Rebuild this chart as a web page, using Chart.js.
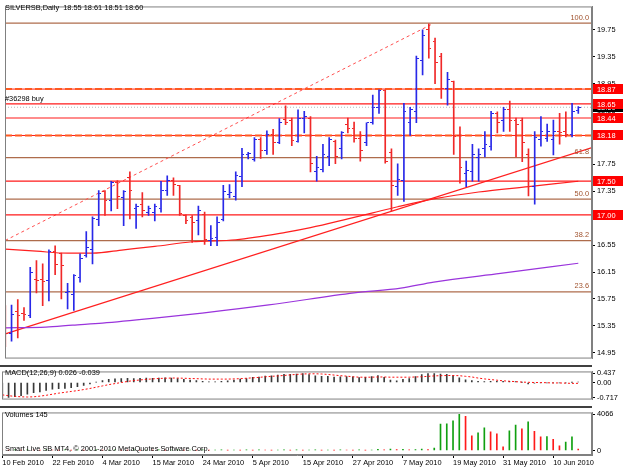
<!DOCTYPE html>
<html>
<head>
<meta charset="utf-8">
<script src="https://cdn.jsdelivr.net/npm/chart.js@4.4.1/dist/chart.umd.min.js"></script>
<style>
html, body { margin: 0; padding: 0; background: #fff; }
#wrap { position: relative; width: 625px; height: 469px; overflow: hidden; }
#wrap canvas { position: absolute; left: 0; }
</style>
</head>
<body>
<div id="wrap">
    <canvas id="mainChart" width="625" height="365" style="top:0"></canvas>
    <canvas id="macdChart" width="625" height="41" style="top:365px"></canvas>
    <canvas id="volChart" width="625" height="63" style="top:406px"></canvas>
</div>
<script>
// SILVERSB daily, 10 Feb 2010 .. mid Jun 2010 (one entry per bar)
const opens = [
    15.45, 15.24, 15.56, 15.53, 15.50, 16.04, 16.04, 16.03, 16.46, 16.42,
    15.84, 15.82, 16.07, 16.40, 16.49, 16.93, 17.35, 17.22, 17.48, 17.26,
    17.55, 17.10, 17.15, 17.04, 17.03, 17.09, 17.36, 17.51, 17.44, 16.99,
    16.96, 16.91, 17.01, 16.62, 16.67, 16.93, 17.30, 17.28, 17.57, 17.90,
    17.83, 18.12, 17.95, 18.19, 18.08, 18.42, 18.41, 18.09, 18.44, 18.44,
    17.64, 17.67, 17.87, 18.09, 17.99, 18.34, 18.28, 18.13, 18.08, 18.37,
    18.60, 18.85, 17.92, 17.42, 17.51, 18.38, 18.53, 19.30, 19.76, 19.58,
    19.36, 18.88, 18.99, 18.18, 17.62, 17.64, 17.86, 17.98, 18.01, 18.51,
    18.40, 18.56, 18.41, 18.41, 17.90, 17.42, 18.12, 18.13, 18.12, 18.24,
    18.24, 18.19, 18.55
];
const highs = [
    15.65, 15.66, 15.74, 15.62, 16.22, 16.32, 16.27, 16.48, 16.54, 16.43,
    15.98, 16.11, 16.42, 16.75, 16.97, 17.36, 17.36, 17.50, 17.51, 17.36,
    17.64, 17.16, 17.33, 17.13, 17.16, 17.50, 17.58, 17.55, 17.44, 17.00,
    16.99, 17.13, 17.04, 16.84, 16.97, 17.44, 17.45, 17.64, 17.99, 17.93,
    18.15, 18.15, 18.25, 18.27, 18.43, 18.62, 18.44, 18.56, 18.54, 18.46,
    17.87, 18.05, 18.15, 18.11, 18.24, 18.44, 18.38, 18.24, 18.37, 18.78,
    18.86, 18.86, 17.98, 17.76, 18.66, 18.60, 19.36, 19.75, 19.84, 19.63,
    19.40, 19.12, 18.99, 18.31, 17.80, 18.05, 17.98, 18.24, 18.54, 18.53,
    18.60, 18.69, 18.44, 18.44, 17.98, 18.24, 18.46, 18.35, 18.41, 18.51,
    18.53, 18.66, 18.61
];
const lows = [
    15.04, 15.12, 15.17, 15.43, 15.47, 15.84, 15.65, 15.72, 16.11, 15.75,
    15.60, 15.58, 16.00, 16.37, 16.27, 16.84, 16.99, 17.06, 17.09, 16.84,
    16.94, 16.80, 16.97, 16.99, 16.91, 17.04, 17.29, 17.29, 16.99, 16.87,
    16.59, 16.70, 16.56, 16.54, 16.54, 16.91, 17.25, 17.22, 17.42, 17.83,
    17.80, 17.84, 17.90, 17.90, 18.06, 18.34, 18.03, 18.08, 18.22, 17.64,
    17.50, 17.64, 17.73, 17.76, 17.83, 18.22, 18.08, 17.80, 18.03, 18.35,
    18.51, 17.77, 17.06, 17.29, 17.20, 18.18, 18.37, 19.08, 19.33, 18.95,
    18.73, 18.63, 17.90, 17.47, 17.42, 17.50, 17.50, 17.86, 17.96, 18.22,
    18.24, 18.24, 17.86, 17.79, 17.28, 17.16, 18.02, 18.09, 17.89, 18.05,
    18.16, 18.16, 18.51
];
const closes = [
    15.24, 15.52, 15.50, 15.52, 16.14, 16.03, 16.01, 16.46, 16.26, 16.25,
    15.86, 16.10, 16.35, 16.51, 16.94, 17.32, 17.22, 17.48, 17.28, 17.35,
    17.36, 17.13, 17.07, 17.10, 17.13, 17.36, 17.51, 17.45, 17.02, 16.91,
    16.88, 17.07, 16.64, 16.65, 16.88, 17.34, 17.33, 17.58, 17.89, 17.91,
    18.12, 17.95, 18.19, 18.08, 18.38, 18.38, 18.11, 18.44, 18.46, 17.77,
    17.71, 17.89, 18.12, 17.87, 18.22, 18.28, 18.14, 17.95, 18.37, 18.60,
    18.85, 17.80, 17.44, 17.52, 18.53, 18.57, 19.33, 19.66, 19.47, 19.26,
    18.88, 19.02, 18.16, 17.71, 17.66, 17.90, 17.89, 18.05, 18.50, 18.38,
    18.56, 18.41, 18.34, 18.08, 17.42, 18.15, 18.24, 18.24, 18.24, 18.22,
    18.19, 18.53, 18.60
];

// MACD(12,26,9): main (histogram) and signal
const macdMain = [
    -0.717, -0.70, -0.66, -0.62, -0.55, -0.48, -0.44, -0.37, -0.31, -0.29,
    -0.28, -0.24, -0.19, -0.14, -0.07, 0.02, 0.09, 0.15, 0.17, 0.18,
    0.20, 0.19, 0.20, 0.21, 0.20, 0.21, 0.22, 0.21, 0.18, 0.15,
    0.11, 0.09, 0.05, 0.03, 0.03, 0.06, 0.08, 0.11, 0.16, 0.19,
    0.24, 0.26, 0.30, 0.31, 0.35, 0.39, 0.38, 0.40, 0.42, 0.37,
    0.31, 0.29, 0.29, 0.26, 0.27, 0.28, 0.27, 0.23, 0.24, 0.28,
    0.32, 0.24, 0.12, 0.08, 0.15, 0.19, 0.28, 0.37, 0.42, 0.42,
    0.40, 0.39, 0.32, 0.22, 0.13, 0.09, 0.05, 0.04, 0.06, 0.05,
    0.06, 0.06, 0.04, 0.01, -0.06, -0.03, -0.02, -0.01, -0.02, -0.01,
    -0.02, 0.01, 0.026
];
const macdSignal = [
    -0.58, -0.62, -0.65, -0.67, -0.68, -0.67, -0.64, -0.60, -0.55, -0.50,
    -0.46, -0.42, -0.38, -0.33, -0.28, -0.22, -0.16, -0.10, -0.05, 0.00,
    0.05, 0.09, 0.12, 0.15, 0.17, 0.19, 0.20, 0.21, 0.21, 0.20,
    0.19, 0.18, 0.17, 0.16, 0.16, 0.16, 0.16, 0.17, 0.18, 0.20,
    0.22, 0.24, 0.27, 0.29, 0.31, 0.33, 0.36, 0.38, 0.40, 0.41,
    0.41, 0.40, 0.38, 0.35, 0.32, 0.30, 0.27, 0.25, 0.25, 0.25,
    0.26, 0.26, 0.25, 0.25, 0.25, 0.25, 0.26, 0.27, 0.29, 0.31,
    0.32, 0.33, 0.33, 0.32, 0.29, 0.26, 0.21, 0.17, 0.14, 0.11,
    0.08, 0.06, 0.04, 0.02, 0.01, 0.00, 0.00, -0.01, -0.02, -0.02,
    -0.03, -0.04, -0.039
];

const volumes = [
    60, 45, 70, 30, 85, 55, 40, 65, 50, 35,
    75, 45, 60, 40, 55, 70, 35, 50, 65, 45,
    40, 60, 30, 55, 45, 70, 35, 50, 60, 40,
    55, 45, 65, 30, 50, 70, 40, 55, 45, 60,
    35, 65, 50, 40, 55, 70, 45, 60, 35, 50,
    65, 40, 55, 45, 70, 50, 35, 60, 45, 55,
    120, 80, 150, 90, 130, 70, 110, 160, 100, 270,
    2950, 2980, 3320, 4066, 3830, 1630, 1970, 2540, 2100, 1860,
    400, 2200, 2850, 2440, 3220, 2140, 1530, 1560, 1250, 510,
    950, 1530, 145
];

// moving averages and trend lines as [bar, price]
const maRed = [
    [0, 16.49], [5, 16.46], [10, 16.43], [14, 16.43], [19, 16.48], [24, 16.53],
    [30, 16.60], [37, 16.63], [45, 16.74], [49, 16.81], [55, 16.94], [59, 17.03],
    [63, 17.12], [69, 17.24], [76, 17.34], [84, 17.42], [92, 17.50]
];
const maPurple = [
    [0, 15.32], [6.5, 15.33], [10.8, 15.36], [15.6, 15.39], [23.6, 15.46], [31.6, 15.54],
    [42.3, 15.66], [56, 15.84], [63.5, 15.91], [68.8, 16.0], [79.5, 16.13], [92, 16.28]
];
const channelLine = [[0, 16.62], [68.6, 19.84]];
const trendLine = [[0, 15.23], [94.2, 18.00]];

const fibNames = ['100.0', '61.8', '50.0', '38.2', '23.6'];
const fibValues = [19.85, 17.852, 17.235, 16.618, 15.854];
const solidLevels = [18.65, 18.44, 17.50, 17.00];
const dashLevels = [18.87, 18.18];
const boxLevels = [18.87, 18.65, 18.44, 18.18, 17.50, 17.00];
const bidPrice = 18.60;

const priceTicks = [19.75, 19.35, 18.95, 18.55, 18.15, 17.75, 17.35, 16.95, 16.55, 16.15, 15.75, 15.35, 14.95];
const macdTicks = [0.437, 0, -0.717];
const volTicks = [4066, 0];
const xTickLabels = ['10 Feb 2010', '22 Feb 2010', '4 Mar 2010', '15 Mar 2010', '24 Mar 2010', '5 Apr 2010',
    '15 Apr 2010', '27 Apr 2010', '7 May 2010', '19 May 2010', '31 May 2010', '10 Jun 2010'];
const xTickStep = 8;

const headerText = 'SILVERSB,Daily  18.55 18.61 18.51 18.60';
const orderText = '#36298 buy';
const macdText = 'MACD(12,26,9) 0.026 -0.039';
const volText = 'Volumes 145';
const copyText = 'Smart Live SB MT4, \u00a9 2001-2010 MetaQuotes Software Corp.';

// ---------------------------------------------------------------
const FAMILY = "'Liberation Sans', Arial, sans-serif";
const FONT = { family: FAMILY, size: 7.4 };
const FONT_CSS = '7.4px ' + FAMILY;
const BLUE = '#2828e8';
const RED = '#f02828';
const X0 = -0.05, X1 = 94.2;

const idx = opens.map((_, i) => i);
const isUp = idx.map(i => closes[i] >= opens[i]);

function tickImage(color, side) {
    const c = document.createElement('canvas');
    c.width = 5; c.height = 1;
    const g = c.getContext('2d');
    g.fillStyle = color;
    g.fillRect(side === 'open' ? 0 : 3, 0, 2, 1);
    return c;
}
const tickImgs = {
    openUp: tickImage(BLUE, 'open'), openDown: tickImage(RED, 'open'),
    closeUp: tickImage(BLUE, 'close'), closeDown: tickImage(RED, 'close')
};

function hline(v, color, width, dash, order) {
    return {
        type: 'line', data: [{ x: X0, y: v }, { x: X1, y: v }],
        borderColor: color, borderWidth: width, borderDash: dash || [],
        pointRadius: 0, order: order
    };
}
const pts = arr => arr.map(([x, y]) => ({ x, y }));

// window frame; sub-windows also get the dark separator on top
function makeFrame(separator) {
    return {
        id: 'frame',
        afterDraw(chart) {
            const { ctx, chartArea: a } = chart;
            ctx.save();
            ctx.strokeStyle = '#808080';
            ctx.lineWidth = 1;
            ctx.strokeRect(a.left + 0.5, a.top + 0.5, a.right - a.left - 1, a.bottom - a.top - 1);
            if (separator) {
                ctx.strokeStyle = '#404040';
                ctx.lineWidth = 2;
                ctx.beginPath();
                ctx.moveTo(0, 1);
                ctx.lineTo(a.right, 1);
                ctx.stroke();
            }
            ctx.restore();
        }
    };
}

function rightAxis(min, max, ticks, fmt) {
    return {
        position: 'right', min: min, max: max,
        afterFit: s => { s.width = 33; },
        afterBuildTicks: s => { s.ticks = ticks.map(v => ({ value: v })); },
        ticks: { color: '#000', font: FONT, padding: 2, callback: fmt },
        grid: { drawOnChartArea: false, drawTicks: true, tickLength: 3, color: '#000' },
        border: { display: true, color: '#808080' }
    };
}
const hiddenX = { type: 'linear', min: X0, max: X1, offset: false, grid: { offset: false }, display: false };
const baseOptions = {
    responsive: false,
    animation: false,
    events: [],
    plugins: { legend: { display: false }, tooltip: { enabled: false } }
};

// Price panel
const mainText = {
    id: 'mainText',
    afterDraw(chart) {
        const { ctx, chartArea: a, scales: { y } } = chart;
        ctx.save();
        ctx.font = FONT_CSS;
        ctx.textBaseline = 'middle';
        ctx.textAlign = 'left';
        ctx.fillStyle = '#000';
        ctx.fillText(headerText, 5, 8);
        ctx.fillText(orderText, 5, y.getPixelForValue(18.65) - 4.5);

        ctx.fillStyle = '#a0522d';
        ctx.textAlign = 'right';
        fibNames.forEach((n, k) => ctx.fillText(n, a.right - 3, y.getPixelForValue(fibValues[k]) - 5.5));

        // price labels of the horizontal lines on the axis
        ctx.textAlign = 'left';
        const box = (v, bg) => {
            const py = Math.round(y.getPixelForValue(v));
            ctx.fillStyle = bg;
            ctx.fillRect(a.right + 1, py - 5, 30, 10);
            ctx.fillStyle = '#fff';
            ctx.fillText(v.toFixed(2), a.right + 5, py + 0.5);
        };
        box(bidPrice, '#000');
        boxLevels.forEach(v => box(v, '#ff0000'));
        ctx.restore();
    }
};

new Chart(document.getElementById('mainChart'), {
    type: 'line',
    data: {
        datasets: [
            {
                type: 'line', showLine: false, order: 0,
                data: idx.map(i => ({ x: i, y: opens[i] })),
                pointRadius: 2,
                pointStyle: c => isUp[c.dataIndex] ? tickImgs.openUp : tickImgs.openDown
            },
            {
                type: 'line', showLine: false, order: 0,
                data: idx.map(i => ({ x: i, y: closes[i] })),
                pointRadius: 2,
                pointStyle: c => isUp[c.dataIndex] ? tickImgs.closeUp : tickImgs.closeDown
            },
            {
                type: 'bar', order: 1,
                data: idx.map(i => ({ x: i, y: [lows[i], highs[i]] })),
                backgroundColor: idx.map(i => isUp[i] ? BLUE : RED),
                barThickness: 1, borderWidth: 0
            },
            ...solidLevels.map(v => hline(v, '#ff1a1a', 1.2, [], 2)),
            ...dashLevels.map(v => hline(v, '#ff1a1a', 1, [], 3)),
            ...dashLevels.map(v => hline(v, '#ff5a20', 2, [7, 3], 2)),
            hline(bidPrice, '#b8b8b8', 1, [1, 2], 4),
            ...fibValues.map(v => hline(v, 'rgba(160,82,45,0.85)', 1.3, [], 5)),
            {
                type: 'line', data: pts(maRed), borderColor: '#ff2020', borderWidth: 1.2,
                cubicInterpolationMode: 'monotone', pointRadius: 0, order: 3
            },
            {
                type: 'line', data: pts(maPurple), borderColor: '#9a34dc', borderWidth: 1.2,
                cubicInterpolationMode: 'monotone', pointRadius: 0, order: 3
            },
            {
                type: 'line', data: pts(trendLine), borderColor: '#ff2020', borderWidth: 1.1,
                pointRadius: 0, order: 3
            },
            {
                type: 'line', data: pts(channelLine), borderColor: '#ff5050', borderWidth: 1,
                borderDash: [3, 3], pointRadius: 0, order: 3
            }
        ]
    },
    options: {
        ...baseOptions,
        layout: { padding: { left: 2, top: 4, right: 0, bottom: 1 } },
        scales: {
            x: hiddenX,
            y: rightAxis(14.863, 20.099, priceTicks, v => v.toFixed(2))
        }
    },
    plugins: [makeFrame(false), mainText]
});

// MACD panel
const macdLabel = {
    id: 'macdLabel',
    afterDraw(chart) {
        const { ctx } = chart;
        ctx.save();
        ctx.font = FONT_CSS;
        ctx.textBaseline = 'middle';
        ctx.fillStyle = '#000';
        ctx.fillText(macdText, 5, 8);
        ctx.restore();
    }
};
new Chart(document.getElementById('macdChart'), {
    type: 'line',
    data: {
        datasets: [
            {
                type: 'line', data: idx.map(i => ({ x: i, y: macdSignal[i] })),
                borderColor: '#ff1010', borderWidth: 1, borderDash: [2, 2], pointRadius: 0, order: 0
            },
            {
                type: 'bar', data: idx.map(i => ({ x: i, y: [0, macdMain[i]] })),
                backgroundColor: '#3a3a3a', barThickness: 1, borderWidth: 0, order: 1
            }
        ]
    },
    options: {
        ...baseOptions,
        layout: { padding: { left: 2, top: 2, right: 0, bottom: 2 } },
        scales: {
            x: hiddenX,
            y: rightAxis(-0.8, 0.52, macdTicks, v => v === 0 ? '0.00' : String(v))
        }
    },
    plugins: [makeFrame(true), macdLabel]
});

// Volume panel with the date axis
const volLabel = {
    id: 'volLabel',
    afterDraw(chart) {
        const { ctx } = chart;
        ctx.save();
        ctx.font = FONT_CSS;
        ctx.textBaseline = 'middle';
        ctx.fillStyle = '#000';
        ctx.fillText(volText, 5, 9);
        ctx.fillText(copyText, 5, 43);
        ctx.restore();
    }
};
new Chart(document.getElementById('volChart'), {
    type: 'line',
    data: {
        datasets: [{
            type: 'bar', data: idx.map(i => ({ x: i, y: [0, volumes[i]] })),
            backgroundColor: idx.map(i => (i > 0 && volumes[i] > volumes[i - 1]) ? '#10a010' : '#ff1a1a'),
            barThickness: 1, borderWidth: 0
        }]
    },
    options: {
        ...baseOptions,
        layout: { padding: { left: 2, top: 2, right: 0, bottom: 0 } },
        scales: {
            x: {
                type: 'linear', min: X0, max: X1, position: 'bottom', offset: false,
                afterFit: s => { s.height = 14; },
                afterBuildTicks: s => { s.ticks = xTickLabels.map((_, k) => ({ value: k * xTickStep })); },
                ticks: {
                    align: 'start', autoSkip: false, maxRotation: 0, color: '#000', font: FONT, padding: 1,
                    callback: (v, k) => xTickLabels[k]
                },
                grid: { drawOnChartArea: false, offset: false, tickLength: 3, color: '#000' },
                border: { display: true, color: '#808080' }
            },
            y: rightAxis(-508, 4269, volTicks, v => String(v))
        }
    },
    plugins: [makeFrame(true), volLabel]
});
</script>
</body>
</html>
